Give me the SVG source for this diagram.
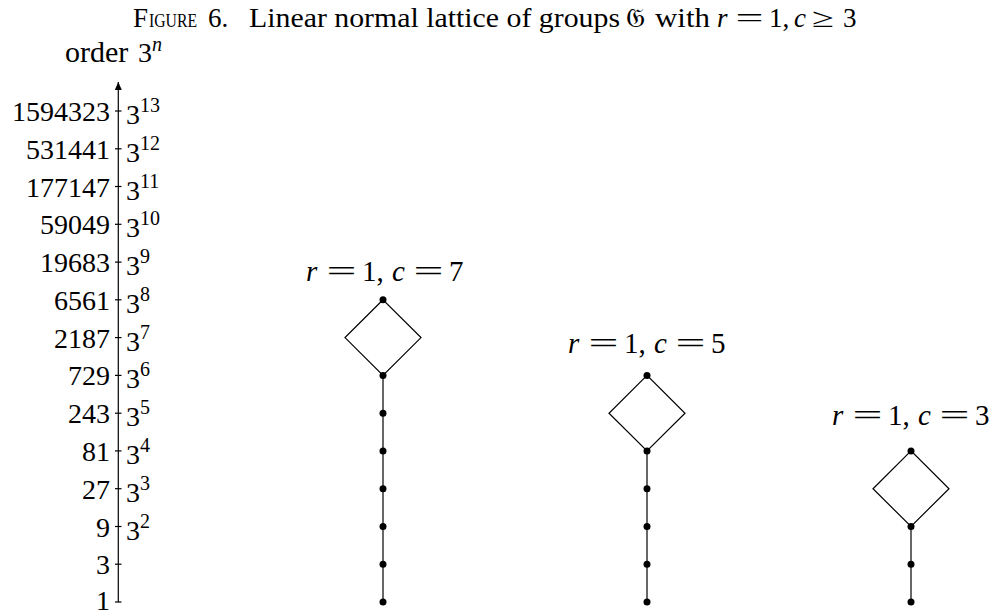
<svg xmlns="http://www.w3.org/2000/svg" width="991" height="613" viewBox="0 0 991 613">
<style>
text{font-family:"Liberation Serif","DejaVu Serif",serif;fill:#000}
.t{font-size:28px}
.lab{font-size:29px}
.l{font-size:28px;text-anchor:end}
.r{font-size:28px}
.sup{font-size:20px}
.i{font-style:italic}
.ln{stroke:#000;stroke-width:1.2;fill:none}
.dot{fill:#000}
</style>
<defs>
<marker id="arr" viewBox="0 0 8 10" refX="8" refY="5" markerWidth="8" markerHeight="10" markerUnits="userSpaceOnUse" orient="auto">
<path d="M0,1.5 L8,5 L0,8.5 Z" fill="#000"/>
</marker>
</defs>
<rect width="991" height="613" fill="#fff"/>
<text id="title" y="27" font-size="27"><tspan x="133">F</tspan><tspan x="149" font-size="19" textLength="48" lengthAdjust="spacingAndGlyphs">IGURE</tspan><tspan x="208">6.</tspan><tspan x="249" textLength="371" lengthAdjust="spacingAndGlyphs">Linear normal lattice of groups</tspan><tspan x="626" font-family="DejaVu Serif, DejaVu Sans, serif">𝔊</tspan><tspan x="655" textLength="55" lengthAdjust="spacingAndGlyphs">with</tspan><tspan x="717" class="i">r</tspan><tspan x="735.5" textLength="28" lengthAdjust="spacingAndGlyphs">=</tspan><tspan x="769">1,</tspan><tspan x="794" class="i">c</tspan><tspan x="812" textLength="22" lengthAdjust="spacingAndGlyphs">≥</tspan><tspan x="843">3</tspan></text>
<g id="axis">
<text class="t" x="65" y="62"><tspan font-size="30">order</tspan> <tspan x="138">3</tspan><tspan class="sup i" dy="-11">n</tspan></text>
<line class="ln" x1="118.3" y1="602" x2="118.3" y2="82" marker-end="url(#arr)"/>
<g class="ln">
<line x1="115" y1="602" x2="121.5" y2="602"/>
<line x1="115" y1="564.2" x2="121.5" y2="564.2"/>
<line x1="115" y1="526.5" x2="121.5" y2="526.5"/>
<line x1="115" y1="488.7" x2="121.5" y2="488.7"/>
<line x1="115" y1="450.9" x2="121.5" y2="450.9"/>
<line x1="115" y1="413.2" x2="121.5" y2="413.2"/>
<line x1="115" y1="375.4" x2="121.5" y2="375.4"/>
<line x1="115" y1="337.6" x2="121.5" y2="337.6"/>
<line x1="115" y1="299.8" x2="121.5" y2="299.8"/>
<line x1="115" y1="262.1" x2="121.5" y2="262.1"/>
<line x1="115" y1="224.3" x2="121.5" y2="224.3"/>
<line x1="115" y1="186.5" x2="121.5" y2="186.5"/>
<line x1="115" y1="148.8" x2="121.5" y2="148.8"/>
<line x1="115" y1="111" x2="121.5" y2="111"/>
</g>
<text class="l" x="110" y="610">1</text>
<text class="l" x="110" y="574.2">3</text>
<text class="l" x="110" y="536.5">9</text>
<text class="l" x="110" y="498.7">27</text>
<text class="l" x="110" y="460.9">81</text>
<text class="l" x="110" y="423.2">243</text>
<text class="l" x="110" y="385.4">729</text>
<text class="l" x="110" y="347.6">2187</text>
<text class="l" x="110" y="309.8">6561</text>
<text class="l" x="110" y="272.1">19683</text>
<text class="l" x="110" y="234.3">59049</text>
<text class="l" x="110" y="196.5">177147</text>
<text class="l" x="110" y="158.8">531441</text>
<text class="l" x="110" y="121">1594323</text>
<text class="r" x="126" y="539.5">3<tspan class="sup" dy="-12">2</tspan></text>
<text class="r" x="126" y="501.7">3<tspan class="sup" dy="-12">3</tspan></text>
<text class="r" x="126" y="463.9">3<tspan class="sup" dy="-12">4</tspan></text>
<text class="r" x="126" y="426.2">3<tspan class="sup" dy="-12">5</tspan></text>
<text class="r" x="126" y="388.4">3<tspan class="sup" dy="-12">6</tspan></text>
<text class="r" x="126" y="350.6">3<tspan class="sup" dy="-12">7</tspan></text>
<text class="r" x="126" y="312.8">3<tspan class="sup" dy="-12">8</tspan></text>
<text class="r" x="126" y="275.1">3<tspan class="sup" dy="-12">9</tspan></text>
<text class="r" x="126" y="237.3">3<tspan class="sup" dy="-12">10</tspan></text>
<text class="r" x="126" y="199.5">3<tspan class="sup" dy="-12">11</tspan></text>
<text class="r" x="126" y="161.8">3<tspan class="sup" dy="-12">12</tspan></text>
<text class="r" x="126" y="124">3<tspan class="sup" dy="-12">13</tspan></text>
</g>
<g id="connectors" class="ln">
<path d="M383,299.8 L345,337.6 L383,375.4 L421,337.6 Z"/>
<line x1="383" y1="375.4" x2="383" y2="602"/>
<path d="M647,375.4 L609,413.2 L647,450.9 L685,413.2 Z"/>
<line x1="647" y1="450.9" x2="647" y2="602"/>
<path d="M911,450.9 L873,488.7 L911,526.5 L949,488.7 Z"/>
<line x1="911" y1="526.5" x2="911" y2="602"/>
</g>
<g id="lattice-c7">
<text class="lab" y="281"><tspan x="306" class="i">r</tspan><tspan x="326.5" textLength="30" lengthAdjust="spacingAndGlyphs">=</tspan><tspan x="362">1,</tspan><tspan x="392" class="i">c</tspan><tspan x="413.5" textLength="30" lengthAdjust="spacingAndGlyphs">=</tspan><tspan x="449">7</tspan></text>
<circle class="dot" cx="383" cy="299.8" r="3.5"/>
<circle class="dot" cx="383" cy="375.4" r="3.5"/>
<circle class="dot" cx="383" cy="413.2" r="3.5"/>
<circle class="dot" cx="383" cy="450.9" r="3.5"/>
<circle class="dot" cx="383" cy="488.7" r="3.5"/>
<circle class="dot" cx="383" cy="526.5" r="3.5"/>
<circle class="dot" cx="383" cy="564.2" r="3.5"/>
<circle class="dot" cx="383" cy="602" r="3.5"/>
</g>
<g id="lattice-c5">
<text class="lab" y="353"><tspan x="568" class="i">r</tspan><tspan x="588.5" textLength="30" lengthAdjust="spacingAndGlyphs">=</tspan><tspan x="624">1,</tspan><tspan x="654" class="i">c</tspan><tspan x="675.5" textLength="30" lengthAdjust="spacingAndGlyphs">=</tspan><tspan x="711">5</tspan></text>
<circle class="dot" cx="647" cy="375.4" r="3.5"/>
<circle class="dot" cx="647" cy="450.9" r="3.5"/>
<circle class="dot" cx="647" cy="488.7" r="3.5"/>
<circle class="dot" cx="647" cy="526.5" r="3.5"/>
<circle class="dot" cx="647" cy="564.2" r="3.5"/>
<circle class="dot" cx="647" cy="602" r="3.5"/>
</g>
<g id="lattice-c3">
<text class="lab" y="425"><tspan x="832" class="i">r</tspan><tspan x="852.5" textLength="30" lengthAdjust="spacingAndGlyphs">=</tspan><tspan x="888">1,</tspan><tspan x="918" class="i">c</tspan><tspan x="939.5" textLength="30" lengthAdjust="spacingAndGlyphs">=</tspan><tspan x="975">3</tspan></text>
<circle class="dot" cx="911" cy="450.9" r="3.5"/>
<circle class="dot" cx="911" cy="526.5" r="3.5"/>
<circle class="dot" cx="911" cy="564.2" r="3.5"/>
<circle class="dot" cx="911" cy="602" r="3.5"/>
</g>
</svg>
